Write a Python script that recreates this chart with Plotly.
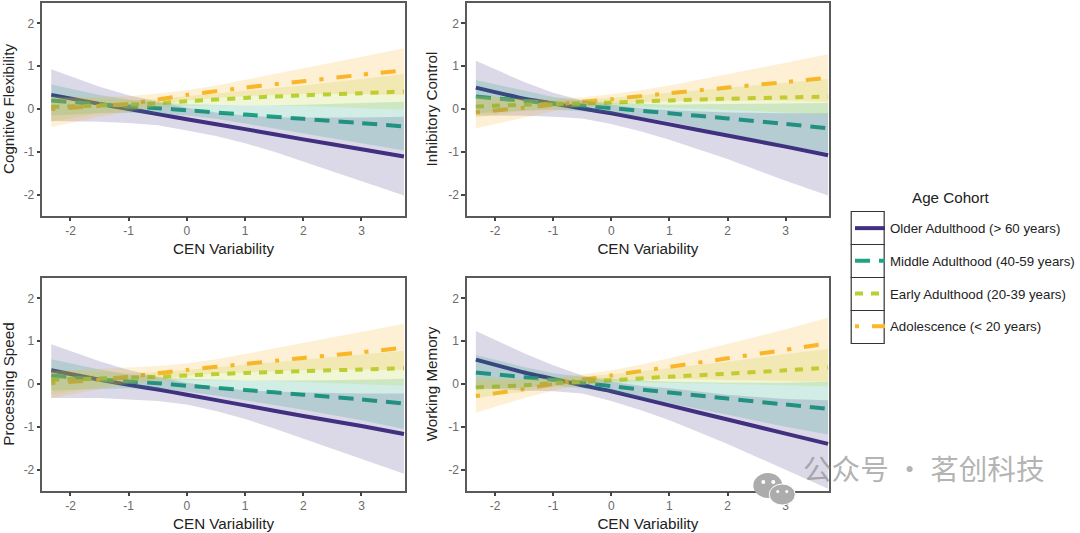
import plotly.graph_objects as go

X = [-2.33, -1.5, -1, -0.5, 0, 1, 2, 3, 3.73]
BAND_X = [-2.33, -1.5, -1, -0.5, 0, 0.5, 1, 1.5, 2, 3, 3.73]
X_TICKS = [-2, -1, 0, 1, 2, 3]
X_LABELS = ["-2", "-1", "0", "1", "2", "3"]
Y_TICKS = [-2, -1, 0, 1, 2]
Y_LABELS = ["-2", "-1", "0", "1", "2"]
X_TITLE = "CEN Variability"
OUTCOMES = ["Cognitive Flexibility", "Inhibitory Control", "Processing Speed", "Working Memory"]
COHORTS = ["Older Adulthood (> 60 years)", "Middle Adulthood (40-59 years)",
           "Early Adulthood (20-39 years)", "Adolescence (< 20 years)"]

# Cognitive Flexibility
cf_old_mean = [.33, .12, .0, -.12, -.24, -.47, -.71, -.94, -1.11]
cf_old_up = [.93, .52, .32, .17, .03, -.08, -.15, -.19, -.2, -.2, -.18]
cf_old_lo = [-.28, -.3, -.33, -.38, -.5, -.63, -.8, -1.0, -1.22, -1.68, -2.02]
cf_mid_mean = [.2, .11, .06, .02, -.03, -.13, -.23, -.33, -.41]
cf_mid_up = [.57, .33, .22, .15, .11, .09, .08, .09, .1, .14, .17]
cf_mid_lo = [-.15, -.1, -.09, -.11, -.15, -.23, -.34, -.44, -.56, -.8, -.97]
cf_early_mean = [.05, .08, .1, .14, .18, .26, .32, .37, .41]
cf_early_up = [.3, .24, .2, .24, .3, .36, .42, .48, .55, .7, .82]
cf_early_lo = [-.3, -.1, -.02, .04, .07, .09, .09, .08, .07, .02, -.02]
cf_ado_mean = [0, .07, .12, .22, .33, .5, .65, .8, .9]
cf_ado_up = [.25, .28, .3, .36, .44, .55, .68, .81, .95, 1.22, 1.42]
cf_ado_lo = [-.42, -.18, -.07, .08, .2, .26, .3, .33, .35, .35, .33]

# Inhibitory Control
ic_old_mean = [.5, .24, .13, .01, -.1, -.36, -.62, -.88, -1.08]
ic_old_up = [1.13, .63, .38, .2, .1, .02, -.03, -.06, -.08, -.1, -.1]
ic_old_lo = [-.15, -.16, -.18, -.22, -.35, -.52, -.72, -.94, -1.17, -1.68, -2.02]
ic_mid_mean = [.29, .19, .13, .08, .02, -.1, -.22, -.35, -.45]
ic_mid_up = [.68, .42, .28, .2, .15, .12, .1, .11, .12, .13, .14]
ic_mid_lo = [-.1, -.04, -.02, -.05, -.1, -.19, -.3, -.44, -.58, -.85, -1.02]
ic_early_mean = [.06, .1, .12, .13, .15, .2, .24, .27, .29]
ic_early_up = [.32, .24, .2, .22, .26, .32, .38, .44, .5, .62, .7]
ic_early_lo = [-.2, -.04, .03, .06, .06, .05, .03, .01, -.02, -.08, -.13]
ic_ado_mean = [-.08, .03, .1, .17, .23, .37, .5, .63, .73]
ic_ado_up = [.3, .22, .24, .27, .35, .44, .55, .68, .82, 1.08, 1.28]
ic_ado_lo = [-.45, -.2, -.05, .06, .12, .16, .18, .19, .2, .2, .17]

# Processing Speed
ps_old_mean = [.32, .1, -.02, -.13, -.25, -.5, -.75, -.98, -1.17]
ps_old_up = [.93, .53, .33, .17, .03, -.07, -.15, -.18, -.2, -.22, -.22]
ps_old_lo = [-.33, -.33, -.36, -.4, -.48, -.63, -.82, -1.04, -1.28, -1.75, -2.1]
ps_mid_mean = [.2, .1, .06, .02, -.04, -.14, -.25, -.36, -.46]
ps_mid_up = [.58, .34, .22, .15, .12, .1, .08, .08, .08, .1, .12]
ps_mid_lo = [-.15, -.12, -.1, -.12, -.18, -.27, -.38, -.49, -.6, -.85, -1.05]
ps_early_mean = [.1, .13, .15, .17, .2, .26, .3, .34, .37]
ps_early_up = [.35, .27, .25, .28, .33, .39, .45, .51, .57, .7, .78]
ps_early_lo = [-.25, -.05, .03, .06, .09, .09, .08, .07, .05, .0, -.04]
ps_ado_mean = [.02, .1, .17, .25, .33, .47, .61, .74, .85]
ps_ado_up = [.3, .35, .38, .42, .48, .58, .7, .83, .97, 1.22, 1.41]
ps_ado_lo = [-.33, -.12, .0, .1, .2, .24, .27, .3, .32, .34, .33]

# Working Memory
wm_old_mean = [.57, .27, .12, -.03, -.17, -.5, -.83, -1.16, -1.4]
wm_old_up = [1.24, .72, .44, .2, .05, -.04, -.1, -.18, -.25, -.35, -.38]
wm_old_lo = [-.1, -.15, -.17, -.22, -.4, -.61, -.85, -1.12, -1.4, -2.0, -2.45]
wm_mid_mean = [.27, .16, .1, .03, -.05, -.2, -.34, -.48, -.58]
wm_mid_up = [.68, .4, .25, .17, .12, .08, .05, .04, .03, .03, .05]
wm_mid_lo = [-.13, -.08, -.04, -.1, -.2, -.32, -.45, -.58, -.72, -1.0, -1.18]
wm_early_mean = [-.08, -.03, .02, .05, .09, .17, .24, .32, .38]
wm_early_up = [.18, .12, .12, .17, .23, .3, .37, .44, .52, .7, .82]
wm_early_lo = [-.33, -.18, -.07, .0, .03, .04, .03, .02, .0, -.03, -.05]
wm_ado_mean = [-.28, -.12, .0, .1, .2, .4, .6, .8, .95]
wm_ado_up = [.1, .1, .15, .22, .32, .45, .6, .77, .95, 1.28, 1.55]
wm_ado_lo = [-.67, -.33, -.15, -.02, .06, .1, .12, .11, .1, .07, .05]

PANELS = [
    [(cf_old_mean, cf_old_lo, cf_old_up), (cf_mid_mean, cf_mid_lo, cf_mid_up),
     (cf_early_mean, cf_early_lo, cf_early_up), (cf_ado_mean, cf_ado_lo, cf_ado_up)],
    [(ic_old_mean, ic_old_lo, ic_old_up), (ic_mid_mean, ic_mid_lo, ic_mid_up),
     (ic_early_mean, ic_early_lo, ic_early_up), (ic_ado_mean, ic_ado_lo, ic_ado_up)],
    [(ps_old_mean, ps_old_lo, ps_old_up), (ps_mid_mean, ps_mid_lo, ps_mid_up),
     (ps_early_mean, ps_early_lo, ps_early_up), (ps_ado_mean, ps_ado_lo, ps_ado_up)],
    [(wm_old_mean, wm_old_lo, wm_old_up), (wm_mid_mean, wm_mid_lo, wm_mid_up),
     (wm_early_mean, wm_early_lo, wm_early_up), (wm_ado_mean, wm_ado_lo, wm_ado_up)],
]

W, H = 1080, 533
FONT = "Liberation Sans"
COLORS = ["#41307F", "#1FA383", "#B4D233", "#FBB62A"]
FILLS = ["rgba(65,48,127,0.19)", "rgba(31,163,131,0.2)", "rgba(180,210,51,0.2)", "rgba(251,182,42,0.2)"]
DASHES = ["solid", "15px,9px", "8px,8px", "4px,13px,15px,13px"]
BOXES = [(42, 405.5, 2.5, 215.5), (467, 830, 2.5, 215.5),
         (42, 405.5, 277.5, 490.5), (467, 830, 277.5, 490.5)]

fig = go.Figure()
for p, panel in enumerate(PANELS):
    ax = "" if p == 0 else str(p + 1)
    for c, (mean, lo, up) in enumerate(panel):
        fig.add_trace(go.Scatter(x=X, y=mean, mode="lines", name=COHORTS[c],
                                 line=dict(color=COLORS[c], width=4, dash=DASHES[c], shape="spline", smoothing=0.5),
                                 legendgroup=COHORTS[c], showlegend=p == 0,
                                 xaxis="x" + ax, yaxis="y" + ax))
    for c, (mean, lo, up) in enumerate(panel):
        fig.add_trace(go.Scatter(x=BAND_X + BAND_X[::-1], y=up + lo[::-1], mode="lines", fill="toself",
                                 fillcolor=FILLS[c], line=dict(width=0), hoverinfo="skip",
                                 legendgroup=COHORTS[c], showlegend=False,
                                 xaxis="x" + ax, yaxis="y" + ax))

layout = dict(
    width=W, height=H, margin=dict(l=0, r=0, t=0, b=0), autosize=False,
    paper_bgcolor="white", plot_bgcolor="white", font=dict(family=FONT, color="#222222"),
    legend=dict(x=850.5 / W, y=1 - 213 / H, xanchor="left", yanchor="top", traceorder="grouped",
                tracegroupgap=12.4, itemwidth=30, bgcolor="rgba(0,0,0,0)",
                font=dict(family=FONT, size=13.3, color="#222222"), itemclick=False, itemdoubleclick=False),
)
for p, (x0, x1, y0, y1) in enumerate(BOXES):
    s = "" if p == 0 else str(p + 1)
    layout["xaxis" + s] = dict(
        domain=[x0 / W, x1 / W], range=[-2.49, 3.75], anchor="y" + s,
        tickvals=X_TICKS, ticktext=X_LABELS, ticks="outside", ticklen=3.5, tickwidth=1.5, tickcolor="#444444",
        tickfont=dict(size=12, color="#6a6a6a"), showgrid=False, zeroline=False,
        showline=True, mirror=True, linecolor="#5a5a5a", linewidth=1.5,
        title=dict(text=X_TITLE, font=dict(size=15.2, color="#222222"), standoff=6))
    layout["yaxis" + s] = dict(
        domain=[1 - y1 / H, 1 - y0 / H], range=[-2.49, 2.49], anchor="x" + s,
        tickvals=Y_TICKS, ticktext=Y_LABELS, ticks="outside", ticklen=3.5, tickwidth=1.5, tickcolor="#444444",
        tickfont=dict(size=12, color="#6a6a6a"), showgrid=False, zeroline=False,
        showline=True, mirror=True, linecolor="#5a5a5a", linewidth=1.5,
        title=dict(text=OUTCOMES[p], font=dict(size=15.2, color="#222222"), standoff=7))
fig.update_layout(**layout)

# legend key cells
for i in range(4):
    fig.add_shape(type="rect", xref="paper", yref="paper", x0=852 / W, x1=885 / W,
                  y0=1 - (211.5 + 33 * (i + 1)) / H, y1=1 - (211.5 + 33 * i) / H,
                  line=dict(color="#333333", width=1.2), layer="below")
fig.add_annotation(x=952 / W, y=1 - 197 / H, xref="paper", yref="paper", xanchor="center", text="Age Cohort",
                   showarrow=False, font=dict(family=FONT, size=15.2, color="#222222"))

# watermark: chat-bubble icon and account name
def dot(x0, x1, y0, y1, fill, line=None):
    fig.add_shape(type="circle", xref="paper", yref="paper", x0=x0 / W, x1=x1 / W, y0=1 - y1 / H, y1=1 - y0 / H,
                  fillcolor=fill, line=line or dict(width=0))

dot(754, 783, 473, 498, "rgb(172,172,172)")
dot(770, 796, 484, 505, "rgb(172,172,172)", dict(color="white", width=1))
dot(762, 766, 480, 484, "white")
dot(772, 776, 480, 484, "white")
dot(777, 780, 490, 493, "white")
dot(786, 789, 490, 493, "white")
fig.add_annotation(x=802 / W, y=1 - 490 / H, xref="paper", yref="paper", xanchor="left", text="公众号 · 茗创科技",
                   showarrow=False, font=dict(family="Noto Sans CJK SC", size=28.6, color="rgba(130,130,130,0.62)"))

fig.write_html("out.html", config=dict(displayModeBar=False), post_script="document.body.style.margin='0';")
